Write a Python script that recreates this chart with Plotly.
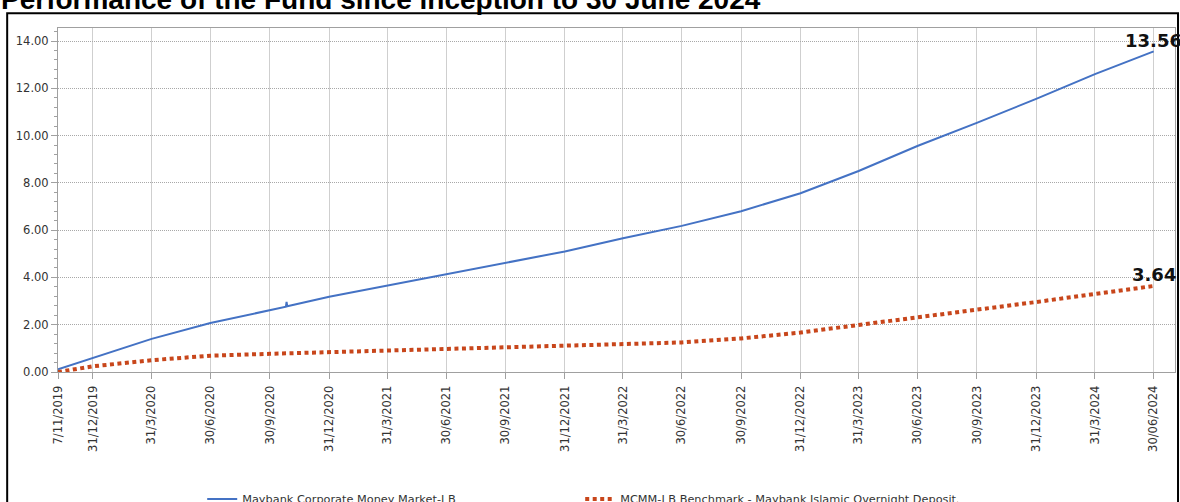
import plotly.graph_objects as go

# ---- data ----
fund_dates = ["2019-11-07", "2019-12-31", "2020-03-31", "2020-06-30", "2020-09-30",
              "2020-10-25", "2020-10-26", "2020-10-27", "2020-12-31",
              "2021-03-31", "2021-06-30", "2021-09-30", "2021-12-31",
              "2022-03-31", "2022-06-30", "2022-09-30", "2022-12-31",
              "2023-03-31", "2023-06-30", "2023-09-30", "2023-12-31",
              "2024-03-31", "2024-06-30"]
fund_values = [0.11, 0.58, 1.40, 2.07, 2.61,
               2.76, 2.97, 2.78, 3.18,
               3.65, 4.13, 4.62, 5.10,
               5.66, 6.18, 6.80, 7.56,
               8.50, 9.56, 10.54, 11.55,
               12.60, 13.56]

bench_dates = ["2019-11-07", "2019-12-31", "2020-03-31", "2020-06-30", "2020-09-30",
               "2020-12-31", "2021-03-31", "2021-06-30", "2021-09-30", "2021-12-31",
               "2022-03-31", "2022-06-30", "2022-09-30", "2022-12-31",
               "2023-03-31", "2023-06-30", "2023-09-30", "2023-12-31",
               "2024-03-31", "2024-06-30"]
bench_values = [0.00, 0.24, 0.50, 0.69, 0.77,
                0.84, 0.90, 0.96, 1.02, 1.10,
                1.16, 1.25, 1.42, 1.67,
                1.99, 2.30, 2.63, 2.96,
                3.30, 3.64]

tick_dates = ["2019-11-07", "2019-12-31", "2020-03-31", "2020-06-30", "2020-09-30",
              "2020-12-31", "2021-03-31", "2021-06-30", "2021-09-30", "2021-12-31",
              "2022-03-31", "2022-06-30", "2022-09-30", "2022-12-31",
              "2023-03-31", "2023-06-30", "2023-09-30", "2023-12-31",
              "2024-03-31", "2024-06-30"]
tick_labels = ["7/11/2019", "31/12/2019", "31/3/2020", "30/6/2020", "30/9/2020",
               "31/12/2020", "31/3/2021", "30/6/2021", "30/9/2021", "31/12/2021",
               "31/3/2022", "30/6/2022", "30/9/2022", "31/12/2022",
               "31/3/2023", "30/6/2023", "30/9/2023", "31/12/2023",
               "31/3/2024", "30/06/2024"]

fund_name = "Maybank Corporate Money Market-I B"
bench_name = "MCMM-I B Benchmark - Maybank Islamic Overnight Deposit."
title_text = "Performance of the Fund since inception to 30 June 2024"

BLUE = "#4472C4"
RED = "#C8461B"
FONT = "DejaVu Sans"

fig = go.Figure()
fig.add_trace(go.Scatter(x=fund_dates, y=fund_values, mode="lines", name=fund_name,
                         line=dict(color=BLUE, width=2)))
fig.add_trace(go.Scatter(x=bench_dates, y=bench_values, mode="lines", name=bench_name,
                         line=dict(color=RED, width=4, dash="4px,3.5px")))

# end-value labels
fig.add_annotation(x=fund_dates[-1], y=fund_values[-1], text="<b>%.2f</b>" % fund_values[-1],
                   showarrow=False, xanchor="center", yanchor="bottom", yshift=-1.5,
                   font=dict(family=FONT, size=18, color="#111"))
fig.add_annotation(x=bench_dates[-1], y=bench_values[-1], text="<b>%.2f</b>" % bench_values[-1],
                   showarrow=False, xanchor="center", yanchor="bottom", yshift=-1,
                   font=dict(family=FONT, size=18, color="#111"))

# partially visible title
fig.add_annotation(xref="paper", yref="paper", x=-0.053, y=1.0, yshift=29,
                   xanchor="left", yanchor="middle", showarrow=False,
                   text="<b>%s</b>" % title_text,
                   font=dict(family="Liberation Sans", size=28, color="#000"))

# outer frame
fig.add_shape(type="rect", xref="paper", yref="paper", x0=-0.0455, x1=1.0027,
              y0=-0.5, y1=1.043, line=dict(color="#000", width=2), layer="above")

fig.update_layout(
    width=1180, height=502,
    margin=dict(l=58, r=5, t=28, b=130, autoexpand=False),
    paper_bgcolor="white", plot_bgcolor="white",
    font=dict(family=FONT, size=11.5, color="#333"),
    showlegend=True,
    legend=dict(orientation="h", x=0.1291, y=-0.369, xanchor="left", yanchor="middle",
                font=dict(family=FONT, size=11.3, color="#333"),
                entrywidth=333, entrywidthmode="pixels", bgcolor="rgba(0,0,0,0)"),
)
fig.update_xaxes(type="date", range=["2019-11-07", "2024-08-02"], automargin=False,
                 tickmode="array", tickvals=tick_dates, ticktext=tick_labels,
                 tickangle=-90, ticks="outside", ticklen=6, tickcolor="#a0a0a0",
                 ticklabelstandoff=2,
                 showline=True, linecolor="#a0a0a0", linewidth=1, mirror=True,
                 showgrid=True, gridcolor="#cfcfcf", gridwidth=1,
                 zeroline=False, tickfont=dict(family=FONT, size=11.5, color="#333"))
fig.update_yaxes(range=[0, 14.55], automargin=False, tickmode="linear", tick0=0, dtick=2,
                 tickformat=".2f",
                 ticks="outside", ticklen=6, tickcolor="#a0a0a0",
                 minor=dict(dtick=0.4, ticks="outside", ticklen=3, tickcolor="#a0a0a0", showgrid=False),
                 showline=True, linecolor="#a0a0a0", linewidth=1, mirror=True,
                 showgrid=True, gridcolor="#a8a8a8", gridwidth=1, griddash="1px,1px",
                 zeroline=False, tickfont=dict(family=FONT, size=11.5, color="#333"))

fig.write_html("out.html", config={"displayModeBar": False},
               post_script="document.body.style.margin='0';document.body.style.overflow='hidden';")
